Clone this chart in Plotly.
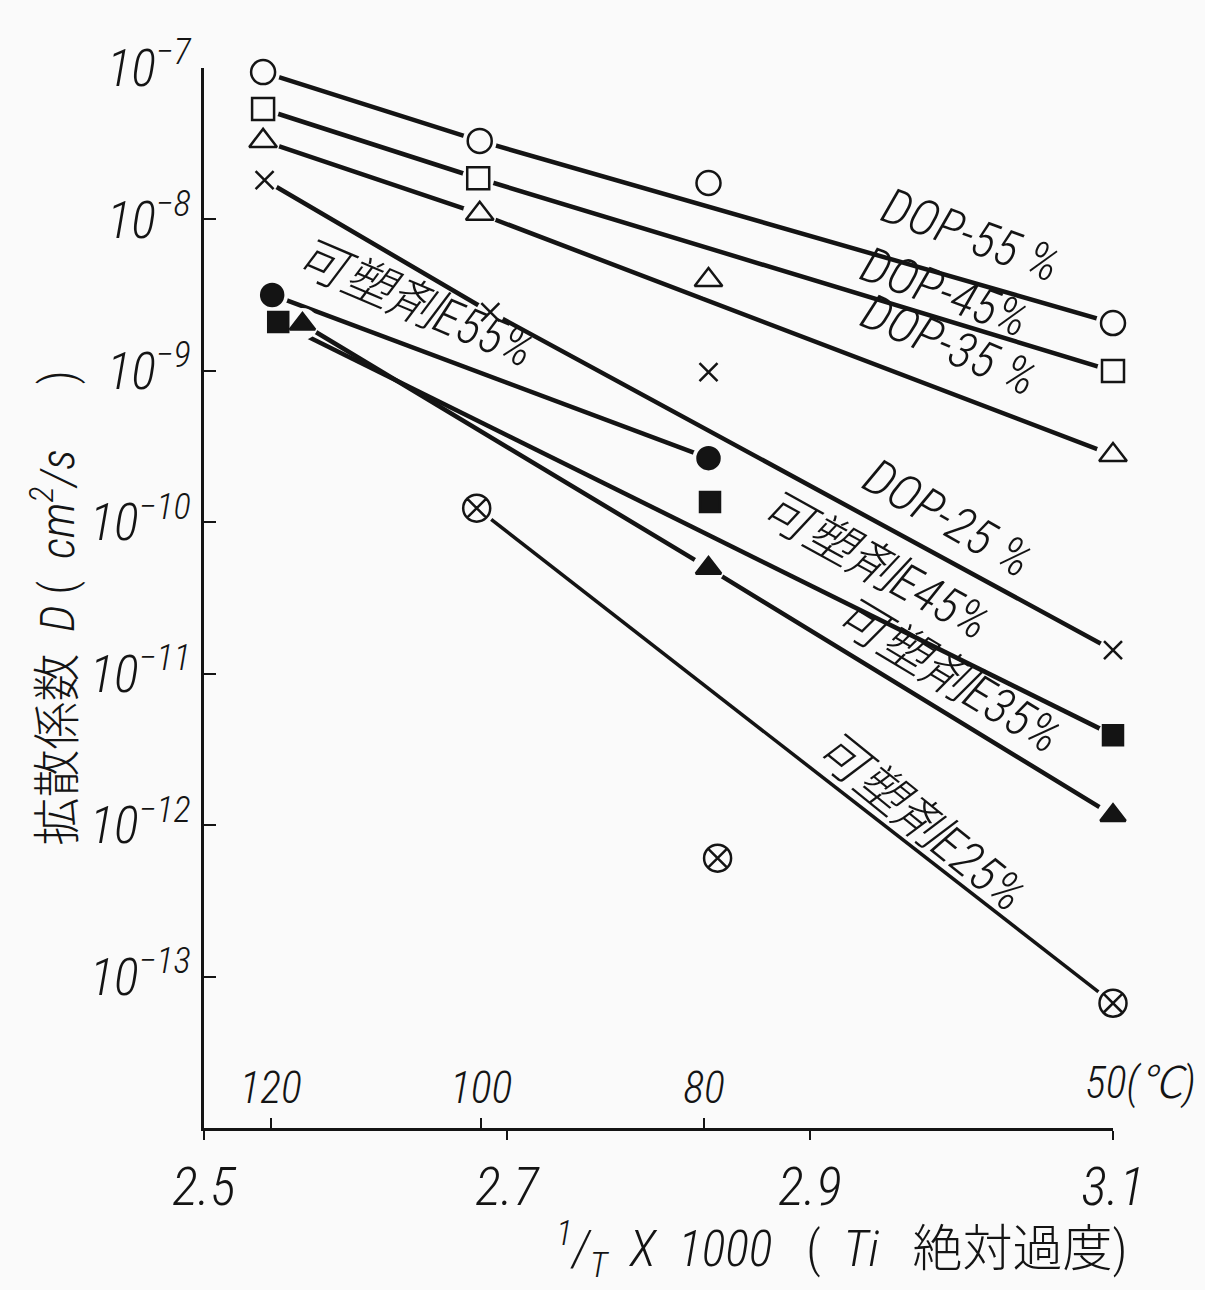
import plotly.graph_objects as go

# 1000/T (K^-1) positions and diffusion coefficients D (cm^2/s) for each plasticizer level
dop55_x = [2.539, 2.682, 2.833, 3.1]
dop55_d = [9.4e-8, 3.3e-8, 1.74e-8, 2.07e-9]
dop55_line = [0, 1, 3]

dop45_x = [2.539, 2.681, 3.1]
dop45_d = [5.36e-8, 1.87e-8, 9.98e-10]
dop45_line = [0, 1, 2]

dop35_x = [2.539, 2.682, 2.833, 3.1]
dop35_d = [3.3e-8, 1.09e-8, 3.98e-9, 2.78e-10]
dop35_line = [0, 1, 3]

dop25_x = [2.540, 2.689, 2.833, 3.1]
dop25_d = [1.82e-8, 2.44e-9, 9.8e-10, 1.43e-11]
dop25_line = [0, 1, 3]

e55_x = [2.545, 2.833]
e55_d = [3.17e-9, 2.65e-10]
e55_line = [0, 1]

e45_x = [2.549, 2.834, 3.1]
e45_d = [2.10e-9, 1.36e-10, 3.93e-12]
e45_line = [0, 2]

e35_x = [2.565, 2.833, 3.1]
e35_d = [2.04e-9, 4.98e-11, 1.16e-12]
e35_line = [0, 1, 2]

e25_x = [2.680, 2.839, 3.1]
e25_d = [1.24e-10, 6.05e-13, 6.67e-14]
e25_line = [0, 2]

# axis ticks
x_ticks = [2.5, 2.7, 2.9, 3.1]
x_ticktext = ["2.5", "2.7", "2.9", "3.1"]
temp_ticks = [2.544, 2.683, 2.830, 3.1]
temp_text = ["120", "100", "80", "50"]
y_exponents = [-14, -13, -12, -11, -10, -9, -8, -7]

INK = "#141414"
BG = "#fafafa"
FONT = "'Roboto Condensed', 'Noto Sans CJK JP', sans-serif"
LIGHT = 300

series = [
    dict(x=dop55_x, d=dop55_d, join=dop55_line, symbol="circle-open", size=24, lw=4.5),
    dict(x=dop45_x, d=dop45_d, join=dop45_line, symbol="square-open", size=22, lw=4.5),
    dict(x=dop35_x, d=dop35_d, join=dop35_line, symbol="triangle-up-open", size=24, lw=4.5),
    dict(x=dop25_x, d=dop25_d, join=dop25_line, symbol="x-thin-open", size=18, lw=4.5),
    dict(x=e55_x, d=e55_d, join=e55_line, symbol="circle", size=22, lw=4.5),
    dict(x=e45_x, d=e45_d, join=e45_line, symbol="square", size=20, lw=4.5),
    dict(x=e35_x, d=e35_d, join=e35_line, symbol="triangle-up", size=22, lw=4.5),
    dict(x=e25_x, d=e25_d, join=e25_line, symbol="circle-x-open", size=27, lw=3.5),
]

fig = go.Figure()

# connecting lines
for s in series:
    fig.add_trace(go.Scatter(
        x=[s["x"][i] for i in s["join"]],
        y=[s["d"][i] for i in s["join"]],
        mode="lines", line=dict(color=INK, width=s["lw"]),
        hoverinfo="skip", showlegend=False,
    ))

# paper-coloured halo so the lines stop short of each symbol
for s in series:
    fig.add_trace(go.Scatter(
        x=s["x"], y=s["d"], mode="markers", cliponaxis=False,
        marker=dict(symbol="circle", size=s["size"] + 10, color=BG, line=dict(width=0)),
        hoverinfo="skip", showlegend=False,
    ))

# data symbols
for s in series:
    fig.add_trace(go.Scatter(
        x=s["x"], y=s["d"], mode="markers", cliponaxis=False,
        marker=dict(symbol=s["symbol"], size=s["size"], color=INK,
                    line=dict(color=INK, width=2.5)),
        showlegend=False,
    ))

# temperature scale drawn on the same baseline
fig.add_trace(go.Scatter(x=[2.5, 3.1], y=[1e-14, 1e-14], xaxis="x2", mode="markers",
                         marker=dict(opacity=0), hoverinfo="skip", showlegend=False))

# curve labels: (text, x, log10 D, angle)
labels = [
    ("DOP-55 %", 3.006, -8.10, 20),
    ("DOP-45%", 2.989, -8.48, 20),
    ("DOP-35 %", 2.992, -8.83, 23),
    ("DOP-25 %", 2.991, -9.97, 30),
    ("可塑剤E55%", 2.639, -8.55, 23),
    ("可塑剤E45%", 2.943, -10.28, 29),
    ("可塑剤E35%", 2.991, -11.01, 31),
    ("可塑剤E25%", 2.973, -11.97, 39),
]
for text, lx, ly, ang in labels:
    fig.add_annotation(x=lx, y=ly, xref="x", yref="y", text=f"<i>{text}</i>",
                       textangle=ang, showarrow=False, xanchor="center", yanchor="middle",
                       font=dict(family=FONT, size=50, color=INK, weight=LIGHT))

# last temperature tick label with its unit
fig.add_annotation(x=temp_ticks[-1], y=0, xref="x", yref="paper",
                   text=f"<i>{temp_text[-1]}(℃)</i>",
                   showarrow=False, xanchor="left", yanchor="bottom", xshift=-30, yshift=17,
                   font=dict(family=FONT, size=44, color=INK, weight=LIGHT))

# axis titles
fig.add_annotation(x=-0.165, y=0.49, xref="paper", yref="paper",
                   text="拡散係数  <i>D</i> (  <i>cm<sup>2</sup>/s</i>      )",
                   textangle=-90, showarrow=False, xanchor="center", yanchor="middle",
                   font=dict(family=FONT, size=48, color=INK, weight=LIGHT))
fig.add_annotation(x=1.018, y=-0.115, xref="paper", yref="paper",
                   text="<i><sup>1</sup>/<sub>T</sub>  X  1000</i>   (  <i>Ti</i>   絶対過度)",
                   showarrow=False, xanchor="right", yanchor="middle",
                   font=dict(family=FONT, size=50, color=INK, weight=LIGHT))

fig.update_layout(
    width=1205, height=1290,
    margin=dict(l=204, r=92, t=68, b=162),
    paper_bgcolor=BG, plot_bgcolor=BG,
    font=dict(family=FONT, color=INK),
    xaxis=dict(
        range=[2.5, 3.1], showgrid=False, zeroline=False,
        showline=True, linecolor=INK, linewidth=3,
        ticks="outside", ticklen=9, tickwidth=2, tickcolor=INK,
        tickvals=x_ticks, ticktext=[f"<i>{t}</i>" for t in x_ticktext],
        tickfont=dict(family=FONT, size=54, color=INK, weight=LIGHT),
    ),
    xaxis2=dict(
        overlaying="x", anchor="y", side="bottom",
        range=[2.5, 3.1], showgrid=False, zeroline=False, showline=False,
        ticks="inside", ticklen=10, tickwidth=2, tickcolor=INK,
        ticklabelposition="inside", ticklabelstandoff=12,
        tickvals=temp_ticks, ticktext=[f"<i>{t}</i>" for t in temp_text[:-1]] + [""],
        tickfont=dict(family=FONT, size=44, color=INK, weight=LIGHT),
    ),
    yaxis=dict(
        type="log", range=[-14, -7], showgrid=False, zeroline=False,
        showline=True, linecolor=INK, linewidth=3,
        ticks="inside", ticklen=12, tickwidth=2, tickcolor=INK,
        tickvals=[10.0 ** e for e in y_exponents],
        ticktext=[f"<i>10<sup>−{-e}</sup></i>" for e in y_exponents],
        tickfont=dict(family=FONT, size=52, color=INK, weight=LIGHT),
    ),
)

fig.write_html("out.html")
